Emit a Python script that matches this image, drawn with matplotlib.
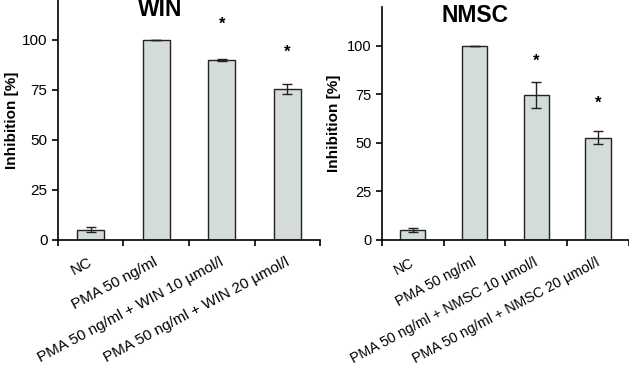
import matplotlib.pyplot as plt

# Data
win_labels = ['NC', 'PMA 50 ng/ml', 'PMA 50 ng/ml + WIN 10 µmol/l',
              'PMA 50 ng/ml + WIN 20 µmol/l']
win_values = [5.2, 100, 90, 75.4]
win_errors = [1.4, 0, 0.4, 2.6]
win_stars = [None, None, 108, 94]

nmsc_labels = ['NC', 'PMA 50 ng/ml', 'PMA 50 ng/ml + NMSC 10 µmol/l',
               'PMA 50 ng/ml + NMSC 20 µmol/l']
nmsc_values = [5.1, 100, 74.7, 52.7]
nmsc_errors = [1.2, 0, 6.5, 3.4]
nmsc_stars = [None, None, 92, 70.5]

bar_color = '#d3dcd9'

plt.rcParams['font.family'] = ['Liberation Sans', 'DejaVu Sans']

fig = plt.figure(figsize=(6.29, 3.69), dpi=100)


def draw_panel(ax, title, title_x, title_y, labels, values, errors, stars,
               xmax, label_size, tick_size, ylabel_pad):
    x = list(range(len(values)))
    ax.bar(x, values, width=0.41, color=bar_color, edgecolor='#222222',
           linewidth=1.0, zorder=2)
    ax.errorbar(x, values, yerr=errors, fmt='none', ecolor='#222222',
                elinewidth=1.0, capsize=3.5, capthick=1.0, zorder=3)
    for xi, s in zip(x, stars):
        if s is not None:
            ax.text(xi, s, '*', ha='center', va='center', fontsize=12,
                    fontweight='bold')

    ax.set_xlim(-0.5, xmax)
    ax.set_ylim(0, 120)
    ax.set_yticks([0, 25, 50, 75, 100])
    ax.tick_params(axis='y', labelsize=tick_size, length=4, width=1.2,
                   direction='out')

    ax.set_xticks([-0.5, 0.5, 1.5, 2.5, 3.5])
    ax.set_xticklabels([])
    ax.tick_params(axis='x', which='major', length=4, width=1.2,
                   direction='out')
    # labels sit a touch left of the bar centres, as in the original
    ax.set_xticks([xi - 0.04 for xi in x], minor=True)
    ax.set_xticklabels(labels, minor=True, rotation=28, ha='right',
                       rotation_mode='anchor', fontsize=label_size)
    ax.tick_params(axis='x', which='minor', length=0, pad=11)

    ax.spines['top'].set_visible(False)
    ax.spines['right'].set_visible(False)
    ax.spines['left'].set_linewidth(1.2)
    ax.spines['bottom'].set_linewidth(1.2)

    ax.set_ylabel('Inhibition [%]', fontsize=11, fontweight='bold',
                  labelpad=ylabel_pad)
    ax.text(title_x, title_y, title, ha='center', va='center', fontsize=16.5,
            fontweight='bold')


ax1 = fig.add_axes([0.092, 0.3496, 0.417, 0.6504])
draw_panel(ax1, 'WIN', 1.06, 115, win_labels, win_values, win_errors,
           win_stars, 3.45, 11, 11, 2)

ax2 = fig.add_axes([0.607, 0.3496, 0.393, 0.631])
draw_panel(ax2, 'NMSC', 1.0, 115.5, nmsc_labels, nmsc_values, nmsc_errors,
           nmsc_stars, 3.5, 10.3, 10.5, 4)

fig.savefig('out.png', dpi=100)
